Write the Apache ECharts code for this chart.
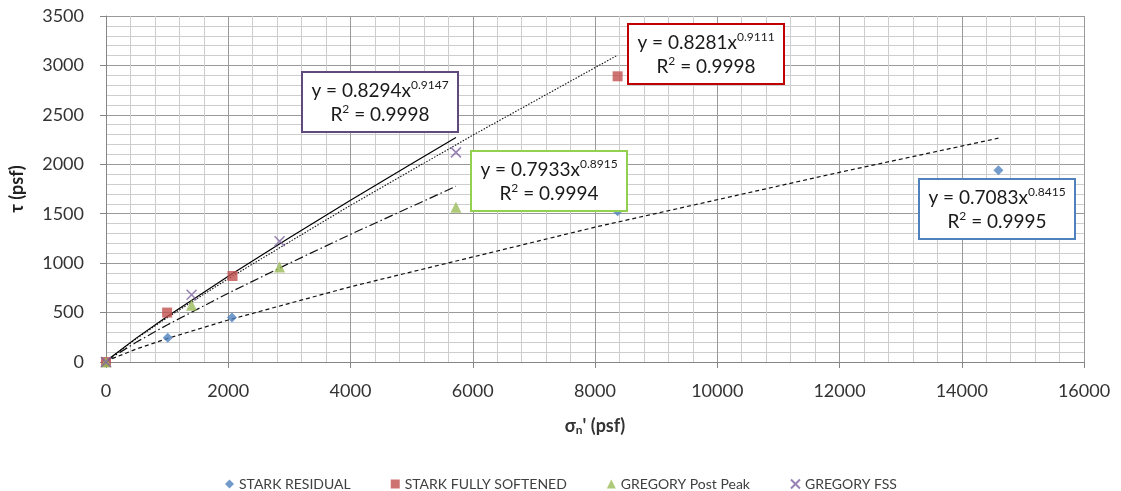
<!DOCTYPE html>
<html><head><meta charset="utf-8">
<script src="https://cdn.jsdelivr.net/npm/echarts@6/dist/echarts.min.js"></script>
<style>html,body{margin:0;padding:0;background:#fff}#c{width:1121px;height:491px}</style>
</head><body><div id="c"></div>
<script>
// Data points [sigma_n', tau]
var starkResidual = [[0,0],[1010,245],[2060,450],[8370,1525],[14600,1940]];
var starkFullySoftened = [[0,0],[1000,500],[2070,870],[8370,2890]];
var gregoryPostPeak = [[0,0],[1400,575],[2840,960],[5725,1565]];
var gregoryFSS = [[0,0],[1400,680],[2840,1222],[5725,2120]];

// Power trendlines as drawn
var trendFSS = [[0,0],[100,56],[500,244],[1000,460],[2000,868],[3000,1258],[4000,1636],[5000,2006],[5725,2271]];
var trendFullySoftened = [[0,0],[100,55],[500,238],[1000,448],[2000,843],[4000,1585],[6000,2294],[8370,3104]];
var trendPostPeak = [[0,0],[100,48],[500,202],[1000,375],[2000,696],[3000,999],[4000,1291],[5725,1777]];
var trendResidual = [[0,0],[100,34],[500,132],[1000,237],[2000,425],[4000,761],[8000,1364],[12000,1919],[14600,2264]];

var seriesNames = ['STARK RESIDUAL','STARK FULLY SOFTENED','GREGORY Post Peak','GREGORY FSS'];
var eqCoef = ['0.7083','0.8281','0.7933','0.8294'];
var eqExp = ['0.8415','0.9111','0.8915','0.9147'];
var eqR2 = ['0.9995','0.9998','0.9994','0.9998'];

var FONT = 'Lato, "Open Sans", sans-serif';
var chart = echarts.init(document.getElementById('c'));

function box(x, y, w, h, color, i) {
  return {
    type: 'group', left: x, top: y, z: 100,
    children: [
      {type:'rect', z:100, shape:{x:0,y:0,width:w,height:h}, style:{fill:'#ffffff', stroke:color, lineWidth:2}},
      {type:'text', z:101, x: w/2, y: 7, style:{
        text: '{b|y = ' + eqCoef[i] + 'x}{s|' + eqExp[i] + '}\n{b|R}{s|2}{b| = ' + eqR2[i] + '}',
        align:'center', verticalAlign:'top', fill:'#1a1a1a',
        rich:{
          b:{fontFamily:FONT, fontSize:19, lineHeight:24, fill:'#1a1a1a', verticalAlign:'middle'},
          s:{fontFamily:FONT, fontSize:12, lineHeight:13, fill:'#1a1a1a', verticalAlign:'top'}
        }
      }}
    ]
  };
}

var xPath = 'path://M0,0L10,10M10,0L0,10';
function plain(v){ return String(v); }

chart.setOption({
  animation:false,
  backgroundColor:'#fff',
  grid:{left:104, right:37, top:16, bottom:129},
  xAxis:{
    type:'value', min:0, max:16000, interval:2000,
    name:'{a|σ}{sub|n}{a|\' (psf)}', nameLocation:'middle', nameGap:54,
    nameTextStyle:{rich:{
      a:{fontFamily:FONT, fontSize:18, fontWeight:'bold', color:'#333'},
      sub:{fontFamily:FONT, fontSize:12, fontWeight:'bold', color:'#333', verticalAlign:'bottom', padding:[8,0,0,0]}
    }},
    axisLine:{lineStyle:{color:'#868686'}},
    axisTick:{show:true, length:6, lineStyle:{color:'#868686'}},
    axisLabel:{fontFamily:FONT, fontSize:18, color:'#333', margin:20, formatter:plain},
    splitLine:{show:true, lineStyle:{color:'#9a9a9a', width:1}},
    minorTick:{show:false, splitNumber:5},
    minorSplitLine:{show:true, lineStyle:{color:'#cdcdcd', width:1}}
  },
  yAxis:{
    type:'value', min:0, max:3500, interval:500,
    name:'τ (psf)', nameLocation:'middle', nameGap:80,
    nameTextStyle:{fontFamily:FONT, fontSize:18, fontWeight:'bold', color:'#222'},
    axisLine:{show:true, lineStyle:{color:'#868686'}},
    axisTick:{show:true, length:6, lineStyle:{color:'#868686'}},
    axisLabel:{fontFamily:FONT, fontSize:18, color:'#333', margin:22, formatter:plain},
    splitLine:{show:true, lineStyle:{color:'#9a9a9a', width:1}},
    minorTick:{show:false, splitNumber:5},
    minorSplitLine:{show:true, lineStyle:{color:'#cdcdcd', width:1}}
  },
  legend:{
    data:seriesNames, left:220, top:472, itemGap:40, itemWidth:9, itemHeight:9,
    textStyle:{fontFamily:FONT, fontSize:14, color:'#404040'}
  },
  series:[
    {name:'trend residual', type:'line', data:trendResidual, symbol:'none', z:3,
      lineStyle:{color:'#111', width:1.2, type:[4,3]}},
    {name:'trend fully', type:'line', data:trendFullySoftened, symbol:'none', z:3,
      lineStyle:{color:'#111', width:1.1, type:[1.5,1.5]}},
    {name:'trend post', type:'line', data:trendPostPeak, symbol:'none', z:3,
      lineStyle:{color:'#111', width:1.2, type:[9,3,1.5,3]}},
    {name:'trend fss', type:'line', data:trendFSS, symbol:'none', z:3,
      lineStyle:{color:'#000', width:1.2, type:'solid'}},
    {name:seriesNames[0], type:'scatter', data:starkResidual, symbol:'diamond', symbolSize:10, z:4,
      itemStyle:{color:'#4F81BD'}},
    {name:seriesNames[1], type:'scatter', data:starkFullySoftened, symbol:'rect', symbolSize:10, z:4,
      itemStyle:{color:'#C0504D'}},
    {name:seriesNames[2], type:'scatter', data:gregoryPostPeak, symbol:'triangle', symbolSize:11, z:4,
      itemStyle:{color:'#9BBB59'}},
    {name:seriesNames[3], type:'scatter', data:gregoryFSS, symbol:xPath, symbolSize:10, z:4,
      itemStyle:{color:'#8064A2', borderColor:'#8064A2', borderWidth:1.6}}
  ],
  graphic:[
    box(301, 71, 156, 60, '#5F4A7B', 3),
    box(627, 23, 156, 60, '#C00000', 1),
    box(470, 150, 156, 60, '#92D050', 2),
    box(918, 178, 156, 60, '#4F81BD', 0)
  ]
});
</script></body></html>
